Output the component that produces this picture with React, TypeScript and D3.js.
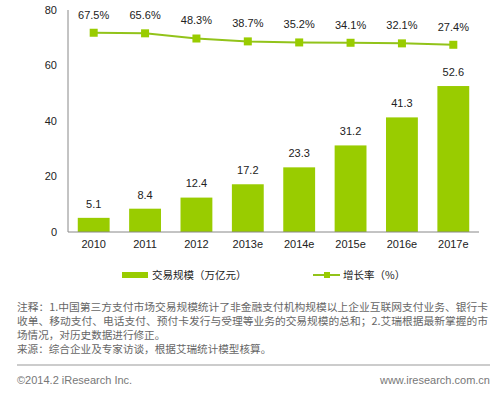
import * as d3 from "d3";

const years = ["2010", "2011", "2012", "2013e", "2014e", "2015e", "2016e", "2017e"];
const volume = [5.1, 8.4, 12.4, 17.2, 23.3, 31.2, 41.3, 52.6];
const growth = [67.5, 65.6, 48.3, 38.7, 35.2, 34.1, 32.1, 27.4];
const yTicks = [0, 20, 40, 60, 80];
const legendLabels = ["交易规模（万亿元）", "增长率（%）"];
const noteLines = [
  "注释：1.中国第三方支付市场交易规模统计了非金融支付机构规模以上企业互联网支付业务、银行卡",
  "收单、移动支付、电话支付、预付卡发行与受理等业务的交易规模的总和；2.艾瑞根据最新掌握的市",
  "场情况，对历史数据进行修正。",
  "来源：综合企业及专家访谈，根据艾瑞统计模型核算。",
];

const GREEN = "#99cc00";
const LINE = "#92c31a";
const FONT = "'Liberation Sans', Arial, sans-serif";
const CJK = "'Noto Sans CJK SC', 'Liberation Sans', sans-serif";

export default function App() {
  const width = 497;
  const height = 393;
  const left = 68, right = 479, top = 10, bottom = 232;

  const x = d3.scaleBand().domain(years).range([left, right]).paddingInner(0.38).paddingOuter(0.19);
  const y = d3.scaleLinear().domain([0, 80]).range([bottom, top]);
  // hidden secondary axis for the growth rate
  const yRate = d3.scaleLinear().domain([0, 140]).range([53, 11]);

  const cx = (d: string) => (x(d) ?? 0) + x.bandwidth() / 2;
  const line = d3.line<number>().x((_, i) => cx(years[i])).y((d) => yRate(d));

  return (
    <svg width={width} height={height} style={{ position: "absolute", left: 0, top: 0, background: "#fff" }}>
      {/* y axis */}
      <line x1={left} x2={left} y1={top} y2={bottom} stroke="#888" />
      {yTicks.map((t) => (
        <text key={t} x={57} y={y(t)} dy="0.35em" textAnchor="end" fontSize={11} fontFamily={FONT} fill="#222">
          {t}
        </text>
      ))}
      {/* bars */}
      {volume.map((v, i) => (
        <g key={years[i]}>
          <rect x={x(years[i])} y={y(v)} width={x.bandwidth()} height={bottom - y(v)} fill={GREEN} />
          <text x={cx(years[i])} y={y(v) - 14} dy="0.35em" textAnchor="middle" fontSize={11} fontFamily={FONT} fill="#222">
            {v.toFixed(1)}
          </text>
        </g>
      ))}
      {/* x axis */}
      <line x1={left} x2={right} y1={bottom} y2={bottom} stroke="#888" />
      {years.map((yr) => (
        <text key={yr} x={cx(yr)} y={244} dy="0.35em" textAnchor="middle" fontSize={11} fontFamily={FONT} fill="#222">
          {yr}
        </text>
      ))}
      {/* growth line */}
      <path d={line(growth) ?? ""} fill="none" stroke={LINE} strokeWidth={2} />
      {growth.map((g, i) => (
        <g key={years[i]}>
          <rect x={cx(years[i]) - 4} y={yRate(g) - 4} width={8} height={8} fill={GREEN} />
          <text x={cx(years[i])} y={yRate(g) - 18} dy="0.35em" textAnchor="middle" fontSize={11} fontFamily={FONT} fill="#222">
            {g.toFixed(1)}%
          </text>
        </g>
      ))}
      {/* legend */}
      <rect x={122} y={272} width={26} height={6} fill={GREEN} />
      <text x={152} y={275} dy="0.35em" fontSize={10.5} fontFamily={CJK} fill="#222">{legendLabels[0]}</text>
      <line x1={313} x2={340} y1={275} y2={275} stroke={LINE} strokeWidth={2} />
      <rect x={324} y={272} width={6} height={6} fill={GREEN} />
      <text x={343} y={275} dy="0.35em" fontSize={10.5} fontFamily={CJK} fill="#222">{legendLabels[1]}</text>
      {/* notes */}
      {noteLines.map((l, i) => (
        <text
          key={i}
          x={17}
          y={307 + i * 14}
          dy="0.35em"
          fontSize={10.6}
          fontFamily={CJK}
          fill="#666"
          {...(i < 2 ? { textLength: 471, lengthAdjust: "spacingAndGlyphs" } : {})}
        >
          {l}
        </text>
      ))}
      <line x1={17} x2={490} y1={365} y2={365} stroke="#999" />
      <text x={17} y={380} dy="0.35em" fontSize={11} fontFamily={FONT} fill="#777">©2014.2 iResearch Inc.</text>
      <text x={490} y={380} dy="0.35em" textAnchor="end" fontSize={11} fontFamily={FONT} fill="#777">www.iresearch.com.cn</text>
    </svg>
  );
}
